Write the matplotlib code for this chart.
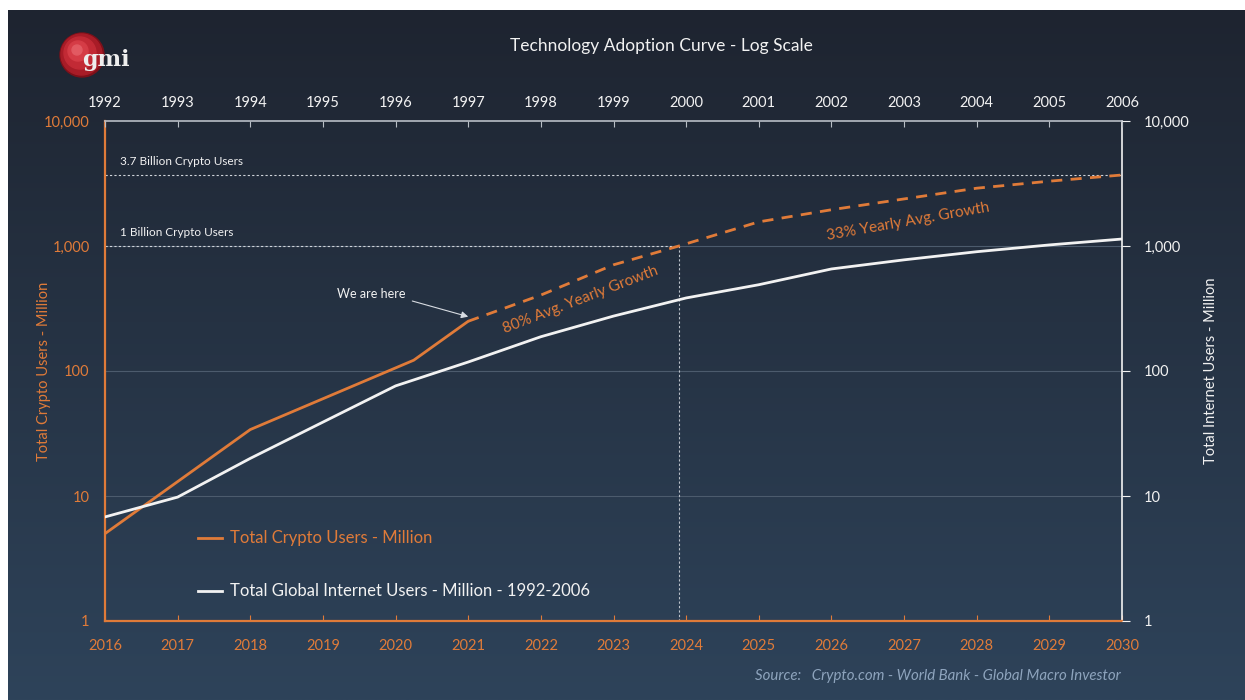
import numpy as np
import matplotlib
matplotlib.use("Agg")
import matplotlib.pyplot as plt
from matplotlib.patches import Circle
from matplotlib.transforms import IdentityTransform
from matplotlib.ticker import NullLocator

plt.rcParams['font.family'] = ['Lato', 'DejaVu Sans']

# ---- data ----
crypto_years = [2016, 2018, 2020.25, 2021]
crypto_vals = [5, 34, 122, 250]
proj_years = [2021, 2022, 2023, 2023.9, 2025, 2026, 2027, 2028, 2029, 2030]
proj_vals = [250, 405, 707, 1000, 1560, 1950, 2380, 2900, 3300, 3700]
net_years = list(range(1992, 2007))
net_vals = [6.8, 9.8, 20, 39, 76, 118, 188, 275, 384, 490, 655, 775, 900, 1020, 1137]
bottom_ticks = list(range(2016, 2031))
top_ticks = list(range(1992, 2007))
y_ticks = [1, 10, 100, 1000, 10000]
y_labels = ['1', '10', '100', '1,000', '10,000']
marker_year = 2023.9

ORANGE = '#e07b39'
WHITE = '#f2f2f2'
GRID = '#4c5b6d'
W, H = 1245, 700

fig = plt.figure(figsize=(12.45, 7.0), dpi=100)
fig.patch.set_facecolor('white')

# gradient background panel
bg = fig.add_axes([8/W, 0, 1 - 8/W, 1 - 10/H], zorder=-10)
top_c = np.array([0x1e, 0x24, 0x30]) / 255
bot_c = np.array([0x2e, 0x43, 0x5a]) / 255
t = np.linspace(0, 1, 256)[:, None]
grad = top_c[None, :] * (1 - t) + bot_c[None, :] * t
bg.imshow(grad[:, None, :].repeat(2, axis=1), aspect='auto', extent=[0, 1, 0, 1], origin='upper')
bg.set_axis_off()

ax = fig.add_axes([105/W, 1 - 621/H, (1122-105)/W, 500/H])
ax.set_facecolor('none')
ax.set_yscale('log')
ax.set_ylim(1, 10000)
ax.set_xlim(2016, 2030)

# grid
for v in [10, 100, 1000]:
    ax.axhline(v, color=GRID, lw=0.8, zorder=1)
ax.axhline(3700, color='#d0d4da', lw=0.8, ls=(0, (2, 2)), zorder=2)
ax.plot([2016, marker_year], [1000, 1000], color='#d0d4da', lw=0.8, ls=(0, (2, 2)), zorder=2)
ax.plot([marker_year, marker_year], [1, 1000], color='#c0c6ce', lw=0.8, ls=(0, (2, 2)), zorder=2)

ax.plot(crypto_years, crypto_vals, color=ORANGE, lw=2, zorder=5, solid_capstyle='round')
ax.plot(proj_years, proj_vals, color=ORANGE, lw=2, ls=(0, (4, 3)), zorder=5)

# bottom axis
ax.set_xticks(bottom_ticks)
ax.set_xticklabels([str(x) for x in bottom_ticks])
ax.tick_params(axis='x', colors=ORANGE, labelcolor=ORANGE, labelsize=10.5, direction='in', length=4, pad=13)
ax.set_yticks(y_ticks)
ax.set_yticklabels(y_labels)
ax.yaxis.set_minor_locator(NullLocator())
ax.tick_params(axis='y', colors=ORANGE, labelcolor=ORANGE, labelsize=10.5, direction='out', length=0, pad=11)
ax.tick_params(axis='y', which='minor', length=0)
for s in ['left', 'bottom']:
    ax.spines[s].set_color(ORANGE)
    ax.spines[s].set_linewidth(1.6)
ax.spines['top'].set_color('#b8bec6')
ax.spines['right'].set_color(WHITE)
ax.spines['top'].set_linewidth(1.2)
ax.spines['right'].set_linewidth(1.2)
ax.set_ylabel('Total Crypto Users - Million', color=ORANGE, fontsize=10.5, labelpad=-5)

# top axis (internet years)
ax2 = ax.twiny()
ax2.set_xlim(1992, 2006)
ax2.plot(net_years, net_vals, color=WHITE, lw=2, zorder=4)
ax2.set_xticks(top_ticks)
ax2.set_xticklabels([str(x) for x in top_ticks])
ax2.tick_params(axis='x', colors='#b8bec6', labelcolor=WHITE, labelsize=10.5, direction='in', length=4, pad=8)
for s in ax2.spines.values():
    s.set_visible(False)

# right axis
ax3 = ax.twinx()
ax3.set_yscale('log')
ax3.set_ylim(1, 10000)
ax3.set_yticks(y_ticks)
ax3.set_yticklabels(y_labels)
ax3.yaxis.set_minor_locator(NullLocator())
ax3.tick_params(axis='y', colors=WHITE, labelcolor=WHITE, labelsize=10.5, direction='out', length=6, pad=10)
ax3.tick_params(axis='y', which='minor', length=0)
for s in ax3.spines.values():
    s.set_visible(False)
ax3.set_ylabel('Total Internet Users - Million', color=WHITE, fontsize=10.5, labelpad=10)

# annotations
ax.text(2016.2, 3700 * 1.15, '3.7 Billion Crypto Users', color=WHITE, fontsize=8.5, va='bottom', ha='left')
ax.text(2016.2, 1000 * 1.15, '1 Billion Crypto Users', color=WHITE, fontsize=8.5, va='bottom', ha='left')
ax.text(2019.66, 413, 'We are here', color=WHITE, fontsize=9, ha='center', va='center')
ax.annotate('', xy=(2021.0, 272), xytext=(2020.23, 363),
            arrowprops=dict(arrowstyle='-|>', color='#d8dce2', lw=0.8, shrinkA=0, shrinkB=0, mutation_scale=10))
ax.text(2022.54, 370, '80% Avg. Yearly Growth', color=ORANGE, fontsize=11, rotation=21,
        ha='center', va='center', rotation_mode='anchor')
ax.text(2027.05, 1550, '33% Yearly Avg. Growth', color=ORANGE, fontsize=11, rotation=10,
        ha='center', va='center', rotation_mode='anchor')

# legend (drawn manually in figure coords)
fig.lines.append(plt.Line2D([198/W, 222/W], [1 - 538/H] * 2, color=ORANGE, lw=2, transform=fig.transFigure))
fig.text(230/W, 1 - 538/H, 'Total Crypto Users - Million', color=ORANGE, fontsize=12, va='center')
fig.lines.append(plt.Line2D([198/W, 222/W], [1 - 591/H] * 2, color=WHITE, lw=2, transform=fig.transFigure))
fig.text(230/W, 1 - 591/H, 'Total Global Internet Users - Million - 1992-2006', color=WHITE, fontsize=12, va='center')

# title and source
fig.text(661/W, 1 - 46/H, 'Technology Adoption Curve - Log Scale', color=WHITE, fontsize=12.5, ha='center', va='center')
fig.text(755/W, 1 - 676/H, 'Source:   Crypto.com - World Bank - Global Macro Investor',
         color='#8ea4bd', fontsize=10.8, style='italic', ha='left', va='center')

# logo (pixel coordinates, origin bottom-left)
for r, c, dx, dy in [(22, '#7d1019', 0, 0), (20.5, '#a81c27', -0.5, 0.5), (16, '#c22a35', -2, 2),
                     (10, '#d53c46', -4, 4), (5, '#e25a62', -5, 5)]:
    fig.patches.append(Circle((82 + dx, H - 55 + dy), r, transform=IdentityTransform(), color=c))
fig.text(106/W, 1 - 60/H, 'gmi', color='#eeeeee', fontsize=16, fontweight='bold',
         family='DejaVu Serif', ha='center', va='center')

fig.savefig('out.png', dpi=100, facecolor=fig.get_facecolor())
